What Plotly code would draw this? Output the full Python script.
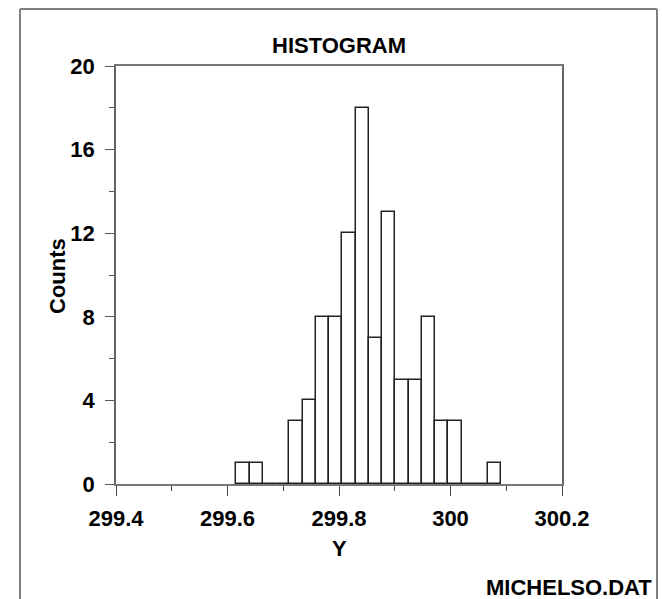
import plotly.graph_objects as go

# ---- data ----
bin_centers = [299.628, 299.652, 299.675, 299.699, 299.723, 299.747, 299.770,
               299.794, 299.818, 299.842, 299.866, 299.889, 299.913, 299.937,
               299.961, 299.984, 300.008, 300.032, 300.056, 300.079]
counts = [1, 1, 0, 0, 3, 4, 8, 8, 12, 18, 7, 13, 5, 5, 8, 3, 3, 0, 0, 1]
bin_width = 0.02375

x_tick_vals = [299.4, 299.6, 299.8, 300.0, 300.2]
x_tick_text = ["299.4", "299.6", "299.8", "300", "300.2"]
y_tick_vals = [0, 4, 8, 12, 16, 20]
y_tick_text = ["0", "4", "8", "12", "16", "20"]

title_text = "HISTOGRAM"
x_label = "Y"
y_label = "Counts"
file_label = "MICHELSO.DAT"

FONT = "Liberation Sans Narrow, Arial Narrow, Liberation Sans, Arial, sans-serif"
font = dict(family=FONT, size=22, color="black", weight="bold")

fig = go.Figure()
fig.add_trace(go.Bar(
    x=bin_centers, y=counts, width=bin_width,
    marker=dict(color="white", line=dict(color="#222222", width=1.5)),
    hoverinfo="x+y", showlegend=False,
))

W, H = 662, 599
L, R, T, B = 116, 100, 66, 115

fig.update_layout(
    width=W, height=H,
    margin=dict(l=L, r=R, t=T, b=B, pad=0),
    paper_bgcolor="white", plot_bgcolor="white",
    bargap=0,
    font=font,
    xaxis=dict(
        range=[299.4, 300.2], tickvals=x_tick_vals, ticktext=x_tick_text,
        ticks="outside", ticklen=10, tickwidth=1.2, tickcolor="#444",
        showline=True, linecolor="#777", linewidth=2, mirror=True,
        showgrid=False, zeroline=False, tickfont=font, ticklabelstandoff=4,
        minor=dict(dtick=0.1, tick0=299.4, ticks="outside", ticklen=5,
                   tickwidth=1.2, tickcolor="#444", showgrid=False),
    ),
    yaxis=dict(
        range=[0, 20], tickvals=y_tick_vals, ticktext=y_tick_text,
        ticks="outside", ticklen=9, tickwidth=1.2, tickcolor="#555",
        showline=True, linecolor="#666", linewidth=1.5, mirror=True,
        showgrid=False, zeroline=False, tickfont=font, ticklabelstandoff=6,
        minor=dict(dtick=2, tick0=0, ticks="outside", ticklen=5,
                   tickwidth=1.2, tickcolor="#555", showgrid=False),
    ),
)

pw = W - L - R
ph = H - T - B


def px(xp):
    return (xp - L) / pw


def py(yp):
    return (H - B - yp) / ph


fig.add_annotation(text=title_text, x=px(339), y=py(46), xref="paper", yref="paper",
                   showarrow=False, xanchor="center", yanchor="middle", font=font)
fig.add_annotation(text=x_label, x=px(339), y=py(548), xref="paper", yref="paper",
                   showarrow=False, xanchor="center", yanchor="middle", font=font)
fig.add_annotation(text=y_label, x=px(57), y=py(276), xref="paper", yref="paper",
                   showarrow=False, xanchor="center", yanchor="middle", textangle=-90,
                   font=font)
fig.add_annotation(text=file_label, x=px(654), y=py(587), xref="paper", yref="paper",
                   showarrow=False, xanchor="right", yanchor="middle", font=font)

frame = dict(color="#808080", width=2)
fig.add_shape(type="line", xref="paper", yref="paper", x0=px(20), x1=px(20),
              y0=py(9), y1=py(620), line=frame)
fig.add_shape(type="line", xref="paper", yref="paper", x0=px(20), x1=px(657),
              y0=py(9), y1=py(9), line=frame)
fig.add_shape(type="line", xref="paper", yref="paper", x0=px(657), x1=px(657),
              y0=py(9), y1=py(620), line=frame)

fig.write_html("out.html")
